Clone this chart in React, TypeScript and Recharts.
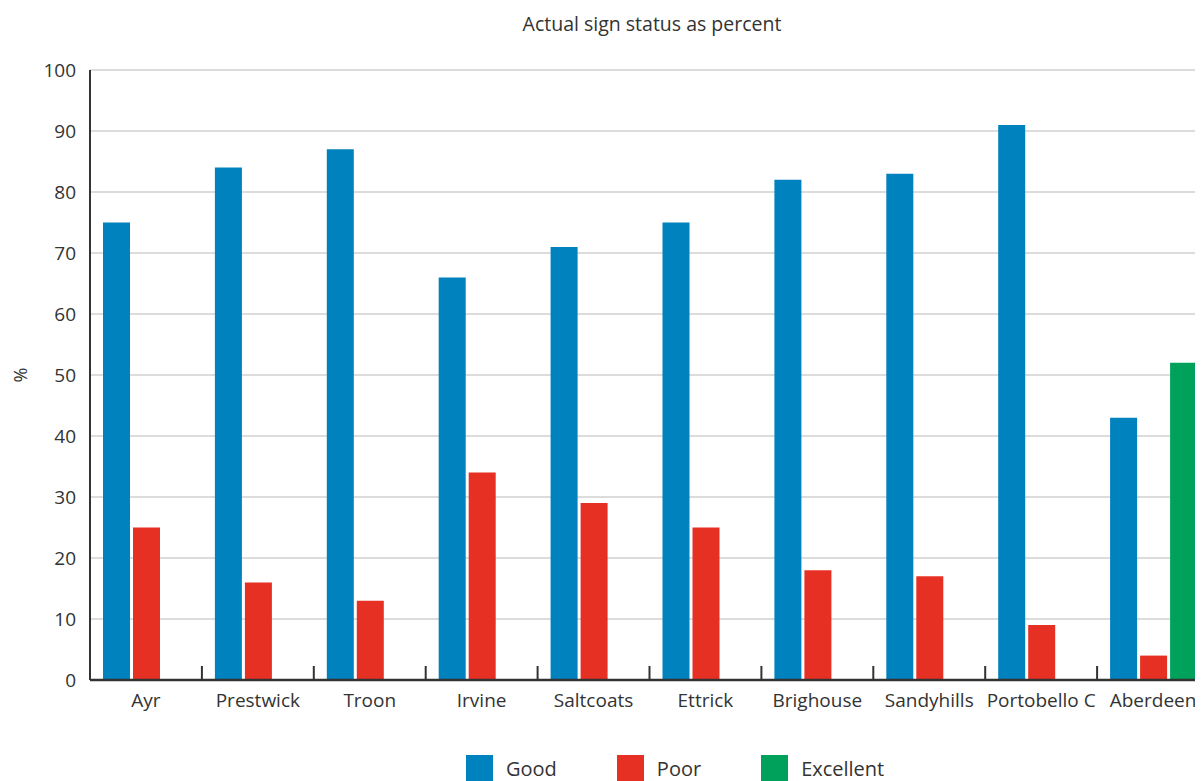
import { Bar, BarChart, CartesianGrid, Label, Legend, XAxis, YAxis } from "recharts";

const sites = [
  "Ayr",
  "Prestwick",
  "Troon",
  "Irvine",
  "Saltcoats",
  "Ettrick",
  "Brighouse",
  "Sandyhills",
  "Portobello C",
  "Aberdeen",
];
const goodPct = [75, 84, 87, 66, 71, 75, 82, 83, 91, 43];
const poorPct = [25, 16, 13, 34, 29, 25, 18, 17, 9, 4];
const excellentPct: (number | null)[] = [null, null, null, null, null, null, null, null, null, 52];
const yTicks = [0, 10, 20, 30, 40, 50, 60, 70, 80, 90, 100];

const seriesInfo = [
  { key: "good", name: "Good", color: "#0082be" },
  { key: "poor", name: "Poor", color: "#e63023" },
  { key: "excellent", name: "Excellent", color: "#00a15a" },
];

const data = sites.map((site, i) => ({
  site,
  good: goodPct[i],
  poor: poorPct[i],
  excellent: excellentPct[i],
}));

const FONT = "'Open Sans', sans-serif";
const INK = "#333333";

function SiteTick(props: any) {
  const { x, y, payload } = props;
  const half = payload?.offset ?? 56;
  const axisY = y - 14;
  return (
    <g>
      <line x1={x + half} x2={x + half} y1={axisY - 14} y2={axisY} stroke={INK} strokeWidth={2} />
      <text x={x} y={y} dy="0.71em" textAnchor="middle" fontSize={19} fill={INK} fontFamily={FONT}>
        {payload.value}
      </text>
    </g>
  );
}

function LegendRow() {
  return (
    <div style={{ display: "flex", alignItems: "center", fontFamily: FONT, fontSize: 20, color: INK }}>
      {seriesInfo.map((s) => (
        <div key={s.key} style={{ display: "flex", alignItems: "center", marginRight: 60 }}>
          <span style={{ display: "inline-block", width: 27, height: 27, background: s.color, marginRight: 13 }} />
          <span>{s.name}</span>
        </div>
      ))}
    </div>
  );
}

export default function App() {
  return (
    <div style={{ position: "relative", width: 1195, height: 773, overflow: "hidden" }}>
      <style>{"body { margin: 8px 8px 0 8px; }"}</style>
      <div
        style={{
          position: "absolute",
          top: 6,
          left: 644,
          transform: "translateX(-50%)",
          whiteSpace: "nowrap",
          fontFamily: FONT,
          fontSize: 19.5,
          lineHeight: "19px",
          color: INK,
        }}
      >
        Actual sign status as percent
      </div>
      <BarChart
        width={1220}
        height={773}
        data={data}
        margin={{ top: 62, right: 19, bottom: 61, left: 0 }}
        barCategoryGap={13}
        barGap={3}
      >
        <CartesianGrid vertical={false} stroke="#dcdcdc" strokeWidth={2} />
        <XAxis
          dataKey="site"
          height={40}
          interval={0}
          tickSize={0}
          tickMargin={14}
          tick={<SiteTick />}
          axisLine={{ stroke: INK, strokeWidth: 2.5 }}
        />
        <YAxis
          width={82}
          domain={[0, 100]}
          ticks={yTicks}
          interval={0}
          tickSize={0}
          tickMargin={14}
          tickLine={false}
          axisLine={{ stroke: INK, strokeWidth: 2 }}
          tick={{ fill: INK, fontSize: 19, fontFamily: FONT }}
        >
          <Label
            content={(p: any) => {
              const vb = p.viewBox;
              const cx = vb.x + 12;
              const cy = vb.y + vb.height / 2;
              return (
                <text
                  x={cx}
                  y={cy}
                  transform={`rotate(-90 ${cx} ${cy})`}
                  textAnchor="middle"
                  dominantBaseline="central"
                  fontSize={18}
                  fill={INK}
                  fontFamily={FONT}
                >
                  %
                </text>
              );
            }}
          />
        </YAxis>
        <Legend
          layout="horizontal"
          verticalAlign="middle"
          align="center"
          wrapperStyle={{ position: "absolute", top: 747, left: 458, width: 500 }}
          content={() => <LegendRow />}
        />
        {seriesInfo.map((s) => (
          <Bar key={s.key} dataKey={s.key} name={s.name} fill={s.color} isAnimationActive={false} />
        ))}
      </BarChart>
    </div>
  );
}
